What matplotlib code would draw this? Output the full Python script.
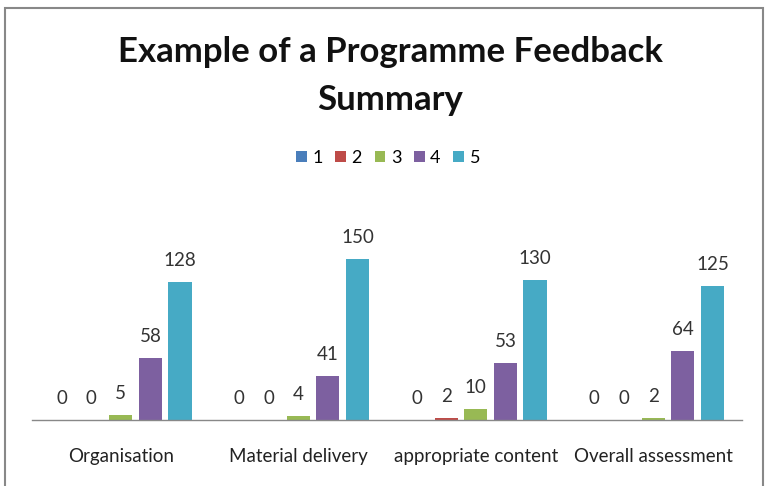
import matplotlib
matplotlib.use("Agg")
import matplotlib.pyplot as plt
from matplotlib.patches import Rectangle
import numpy as np

categories = ["Organisation", "Material delivery", "appropriate content", "Overall assessment"]
series_names = ["1", "2", "3", "4", "5"]
s1 = [0, 0, 0, 0]
s2 = [0, 0, 2, 0]
s3 = [5, 4, 10, 2]
s4 = [58, 41, 53, 64]
s5 = [128, 150, 130, 125]
values = [s1, s2, s3, s4, s5]
colors = ["#4A7EBB", "#BE4B48", "#98B954", "#7D60A0", "#46AAC5"]

plt.rcParams['font.family'] = ['Lato', 'DejaVu Sans']

fig = plt.figure(figsize=(7.68, 4.86), dpi=100)
W, H = 768, 486
ax = fig.add_axes([32 / W, (H - 420) / H, (742 - 32) / W, (420 - 190) / H])

x = np.arange(len(categories))
pitch = 0.167
width = 0.13
for i, (name, vals, c) in enumerate(zip(series_names, values, colors)):
    pos = x + (i - 2) * pitch
    ax.bar(pos, vals, width=width, color=c, label=name, zorder=2)
    for xb, v in zip(pos, vals):
        ax.annotate(str(v), (xb, v), xytext=(0, 15.5), textcoords='offset points',
                    ha='center', va='center', fontsize=13.5, color='#333333')

ax.set_xlim(-0.5, len(categories) - 0.5)
ax.set_ylim(0, 214)
ax.set_yticks([])
ax.set_xticks(x)
ax.set_xticklabels(categories, fontsize=13.5, color='#222222')
ax.tick_params(axis='x', length=0, pad=20)
for s in ['top', 'right', 'left']:
    ax.spines[s].set_visible(False)
ax.spines['bottom'].set_color('#888888')
ax.spines['bottom'].set_linewidth(1.0)

fig.text(390 / W, 1 - 52 / H, "Example of a Programme Feedback", ha='center', va='center',
         fontsize=25, fontweight='bold', color='#111111')
fig.text(390 / W, 1 - 100 / H, "Summary", ha='center', va='center',
         fontsize=25, fontweight='bold', color='#111111')

fig.legend(loc='center', bbox_to_anchor=(388 / W, 1 - 158 / H), ncol=5, frameon=False,
           fontsize=13, handlelength=0.6, handleheight=0.6, handletextpad=0.3,
           columnspacing=0.7)

fig.patches.append(Rectangle((5 / W, -0.1), (763 - 5) / W, 1.1 - 8 / H, transform=fig.transFigure,
                             fill=False, edgecolor='#888888', linewidth=1.5))

fig.savefig("out.png", dpi=100)
